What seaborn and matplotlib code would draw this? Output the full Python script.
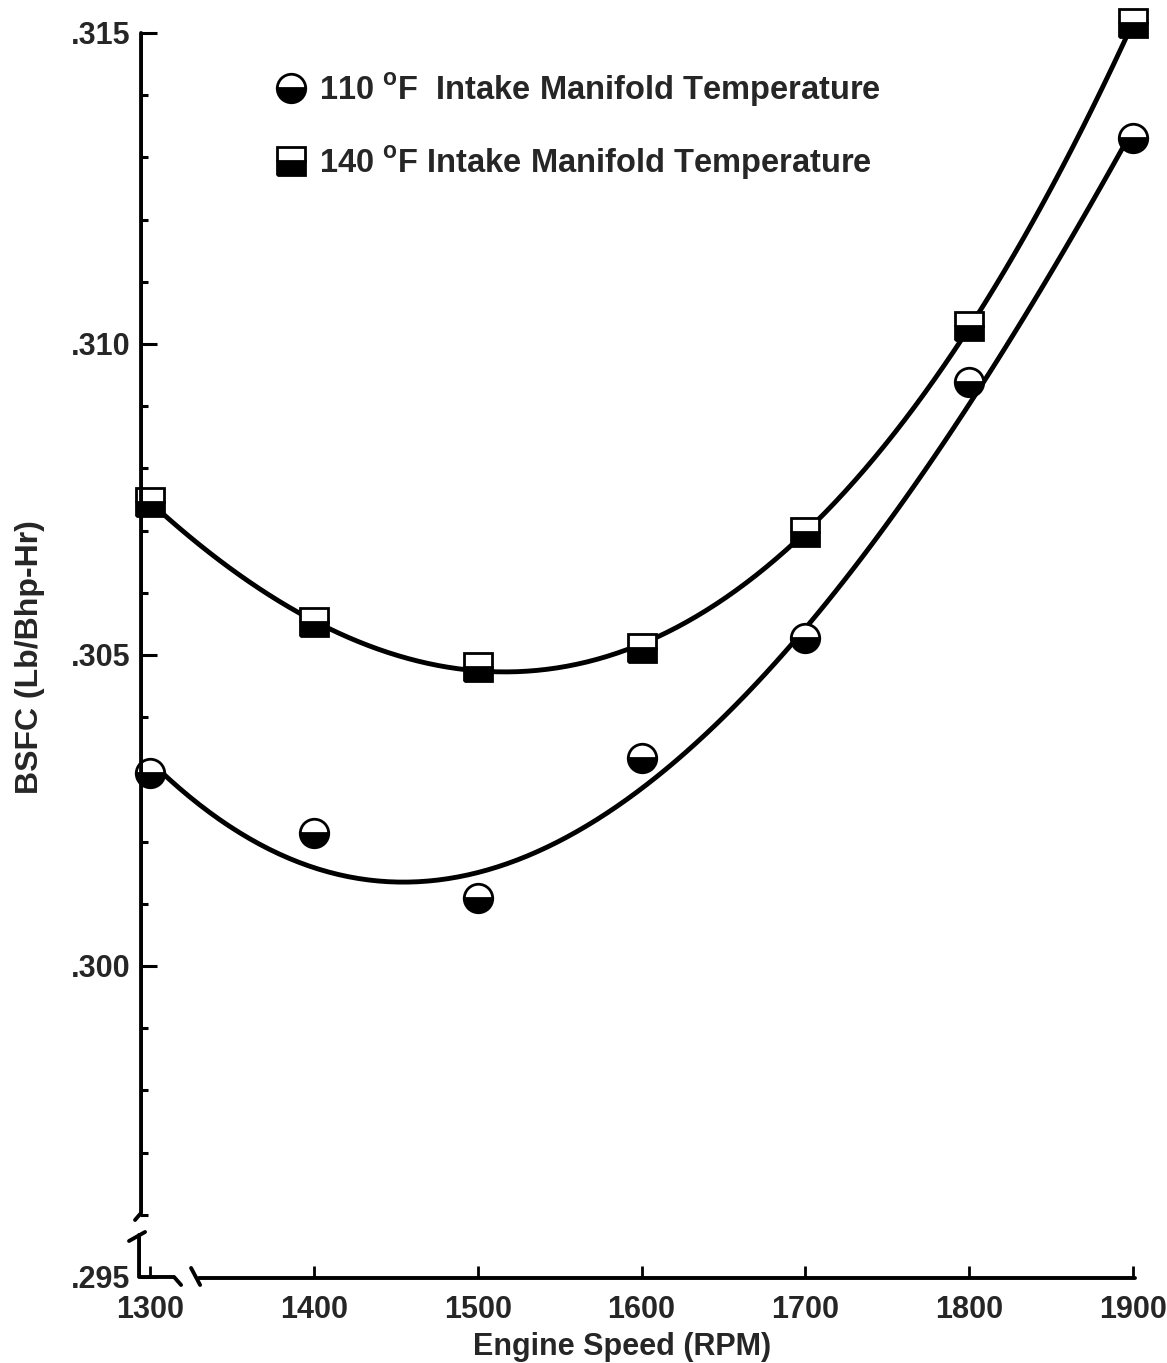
import numpy as np
import matplotlib
matplotlib.use("Agg")
import matplotlib.pyplot as plt
from matplotlib.lines import Line2D
from matplotlib.ticker import MultipleLocator, FixedLocator, FuncFormatter
import seaborn as sns

# Engine speed (RPM) and brake specific fuel consumption (lb/bhp-hr)
engine_speed = [1300, 1400, 1500, 1600, 1700, 1800, 1900]
bsfc_110f = [0.30310, 0.30214, 0.30109, 0.30334, 0.30527, 0.30939, 0.31331]
bsfc_140f = [0.30746, 0.30553, 0.30481, 0.30511, 0.30698, 0.31029, 0.31516]

# speeds left out of each trend fit (the 1600 RPM reading at 110 F is an outlier)
fit_excluded_110f = [1600]
fit_excluded_140f = []

series_labels = [
    "110 $^{\\mathrm{o}}$F  Intake Manifold Temperature",
    "140 $^{\\mathrm{o}}$F Intake Manifold Temperature",
]
x_ticks = [1300, 1400, 1500, 1600, 1700, 1800, 1900]
y_ticks = [0.295, 0.300, 0.305, 0.310, 0.315]

sns.set_style("white")
plt.rcParams["font.family"] = ["Liberation Sans", "DejaVu Sans"]
plt.rcParams["font.weight"] = "bold"
plt.rcParams["mathtext.fontset"] = "custom"
plt.rcParams["mathtext.rm"] = "Liberation Sans:bold"

fig = plt.figure(figsize=(11.67, 13.63), dpi=100)
ax = fig.add_axes([0.120, 0.0631, 0.8517, 0.9127])

marker_style = dict(ls="none", ms=20.5, fillstyle="bottom",
                    markerfacecolor="black", markerfacecoloralt="white",
                    markeredgecolor="black", mew=2.0)

x = np.array(engine_speed, dtype=float)
for values, excluded, marker in [(bsfc_110f, fit_excluded_110f, "o"),
                                 (bsfc_140f, fit_excluded_140f, "s")]:
    y = np.array(values)
    keep = ~np.isin(x, excluded)
    sns.regplot(x=x[keep], y=y[keep], order=3, ci=None, scatter=False, truncate=True,
                line_kws=dict(color="black", lw=3.5, solid_capstyle="round"), ax=ax)
    ax.plot(x, y, marker=marker, zorder=4, clip_on=False, **marker_style)

ax.set_xlim(1294, 1900.5)
ax.set_ylim(0.295, 0.315)

# axis lines drawn by hand so both axes can carry a break
for s in ax.spines.values():
    s.set_visible(False)

W, H = 993.0, 1244.0
def pa(px, py):
    return (px - 140) / W, (1277 - py) / H

axis_kw = dict(color="black", lw=2.8, transform=ax.transAxes, clip_on=False,
               solid_capstyle="round", zorder=5)
segments = [
    [(141, 33), (141, 1213), (135, 1220)],                 # upper y segment
    [(129, 1241), (145, 1232)],                             # lower y break stroke
    [(139, 1235), (139, 1277), (174, 1277), (181, 1285)],  # corner + first x segment
    [(191, 1268), (200, 1285)],                             # x break stroke
    [(199, 1278), (1134, 1278)],                            # main x segment
]
for seg in segments:
    xs, ys = zip(*[pa(*p) for p in seg])
    ax.plot(xs, ys, **axis_kw)

ax.xaxis.set_major_locator(FixedLocator(x_ticks))
ax.yaxis.set_major_locator(FixedLocator(y_ticks))
ax.yaxis.set_minor_locator(MultipleLocator(0.001))
ax.yaxis.set_major_formatter(FuncFormatter(lambda v, p: f"{v:.3f}"[1:]))

ax.tick_params(axis="y", which="major", direction="in", length=12, width=2.2,
               labelsize=22, pad=7, left=True, color="black")
ax.tick_params(axis="y", which="minor", direction="in", length=6, width=2.2,
               left=True, color="black")
ax.tick_params(axis="x", which="major", direction="in", length=8, width=2,
               labelsize=22, pad=13, bottom=True, color="black")

ax.set_xlabel("Engine Speed (RPM)", fontsize=22, fontweight="bold")
ax.xaxis.set_label_coords((622 - 140) / W, (1277 - 1332) / H)
ax.set_ylabel("BSFC (Lb/Bhp-Hr)", fontsize=23, fontweight="bold")
ax.yaxis.set_label_coords((45 - 140) / W, (1277 - 657) / H)

handles = [
    Line2D([], [], marker="o", **marker_style),
    Line2D([], [], marker="s", **marker_style),
]
ax.legend(handles, series_labels, loc="upper left",
          bbox_to_anchor=pa(275, 71), frameon=False,
          prop=dict(size=23.5, weight="bold"),
          handlelength=1.0, handletextpad=0.35, labelspacing=1.1,
          borderpad=0, borderaxespad=0)

fig.savefig("out.png", dpi=100, facecolor="white")
